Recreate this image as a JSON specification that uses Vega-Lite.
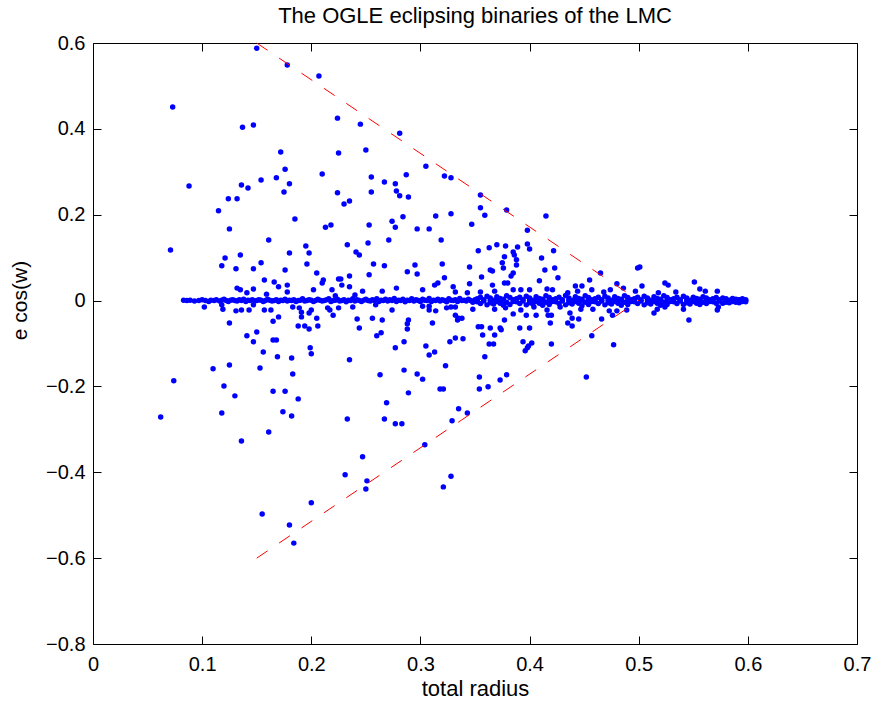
{
"$schema": "https://vega.github.io/schema/vega-lite/v6.json",
"width": 764, "height": 601,
"autosize": {"type": "none"},
"padding": {"left": 93, "top": 43, "right": 18, "bottom": 65},
"background": "white",
"config": {"font": "Liberation Sans", "view": {"stroke": "black", "strokeWidth": 1}},
"title": {"text": "The OGLE eclipsing binaries of the LMC", "fontSize": 22, "fontWeight": "normal", "color": "black", "offset": 5, "anchor": "middle", "font": "Liberation Sans"},
"datasets": {
"bounds": [
{"r":0.15,"e":0.6,"side":"upper"},{"r":0.5,"e":0,"side":"upper"},
{"r":0.15,"e":-0.6,"side":"lower"},{"r":0.5,"e":0,"side":"lower"}
],
"stars": [
{"r":0.150,"e":0.588},{"r":0.178,"e":0.549},{"r":0.207,"e":0.523},{"r":0.073,"e":0.451},{"r":0.137,"e":0.404},{"r":0.147,"e":0.409},{"r":0.172,"e":0.346},{"r":0.176,"e":0.306},{"r":0.210,"e":0.295},{"r":0.154,"e":0.281},{"r":0.168,"e":0.286},{"r":0.180,"e":0.272},{"r":0.175,"e":0.253},{"r":0.136,"e":0.269},{"r":0.142,"e":0.262},{"r":0.088,"e":0.267},{"r":0.124,"e":0.237},{"r":0.132,"e":0.237},{"r":0.115,"e":0.209},{"r":0.185,"e":0.190},{"r":0.125,"e":0.167},{"r":0.213,"e":0.171},{"r":0.218,"e":0.176},{"r":0.224,"e":0.425},{"r":0.225,"e":0.344},{"r":0.224,"e":0.251},{"r":0.245,"e":0.411},{"r":0.281,"e":0.390},{"r":0.250,"e":0.351},{"r":0.305,"e":0.313},{"r":0.255,"e":0.288},{"r":0.267,"e":0.276},{"r":0.277,"e":0.272},{"r":0.287,"e":0.293},{"r":0.322,"e":0.290},{"r":0.328,"e":0.286},{"r":0.255,"e":0.253},{"r":0.278,"e":0.255},{"r":0.281,"e":0.244},{"r":0.289,"e":0.241},{"r":0.230,"e":0.225},{"r":0.235,"e":0.232},{"r":0.355,"e":0.246},{"r":0.379,"e":0.211},{"r":0.355,"e":0.216},{"r":0.359,"e":0.199},{"r":0.314,"e":0.197},{"r":0.328,"e":0.202},{"r":0.284,"e":0.195},{"r":0.274,"e":0.185},{"r":0.277,"e":0.171},{"r":0.253,"e":0.176},{"r":0.347,"e":0.178},{"r":0.297,"e":0.167},{"r":0.308,"e":0.167},{"r":0.398,"e":0.164},{"r":0.415,"e":0.197},
{"r":0.071,"e":0.118},{"r":0.161,"e":0.141},{"r":0.195,"e":0.127},{"r":0.198,"e":0.111},{"r":0.180,"e":0.111},{"r":0.121,"e":0.099},{"r":0.135,"e":0.106},{"r":0.118,"e":0.081},{"r":0.131,"e":0.074},{"r":0.147,"e":0.074},{"r":0.154,"e":0.088},{"r":0.196,"e":0.085},{"r":0.176,"e":0.071},{"r":0.205,"e":0.064},{"r":0.157,"e":0.048},{"r":0.166,"e":0.043},{"r":0.170,"e":0.032},{"r":0.178,"e":0.036},{"r":0.211,"e":0.048},{"r":0.210,"e":0.041},{"r":0.225,"e":0.050},{"r":0.132,"e":0.029},{"r":0.135,"e":0.025},{"r":0.147,"e":0.027},{"r":0.141,"e":0.018},{"r":0.178,"e":0.020},{"r":0.202,"e":0.025},{"r":0.159,"e":0.015},{"r":0.219,"e":0.025},{"r":0.222,"e":0.011},
{"r":0.102,"e":-0.015},{"r":0.119,"e":-0.020},{"r":0.118,"e":-0.010},{"r":0.131,"e":-0.024},{"r":0.136,"e":-0.022},{"r":0.143,"e":-0.022},{"r":0.147,"e":-0.010},{"r":0.157,"e":-0.022},{"r":0.163,"e":-0.022},{"r":0.183,"e":-0.015},{"r":0.189,"e":-0.017},{"r":0.191,"e":-0.027},{"r":0.200,"e":-0.022},{"r":0.191,"e":-0.038},{"r":0.198,"e":-0.029},{"r":0.205,"e":-0.041},{"r":0.215,"e":-0.017},{"r":0.217,"e":-0.022},{"r":0.220,"e":-0.034},{"r":0.225,"e":-0.017},{"r":0.165,"e":-0.048},{"r":0.170,"e":-0.038},{"r":0.125,"e":-0.052},{"r":0.188,"e":-0.059},{"r":0.194,"e":-0.059},{"r":0.198,"e":-0.066},{"r":0.206,"e":-0.059},{"r":0.150,"e":-0.073},{"r":0.141,"e":-0.082},{"r":0.147,"e":-0.096},{"r":0.165,"e":-0.092},{"r":0.168,"e":-0.092},{"r":0.199,"e":-0.110},{"r":0.200,"e":-0.124},{"r":0.156,"e":-0.120},{"r":0.169,"e":-0.131},{"r":0.182,"e":-0.134},{"r":0.125,"e":-0.150},{"r":0.110,"e":-0.159},{"r":0.153,"e":-0.157},
{"r":0.183,"e":-0.171},{"r":0.074,"e":-0.187},{"r":0.120,"e":-0.199},{"r":0.130,"e":-0.222},{"r":0.165,"e":-0.211},{"r":0.176,"e":-0.211},{"r":0.188,"e":-0.229},{"r":0.062,"e":-0.271},{"r":0.118,"e":-0.262},{"r":0.174,"e":-0.259},{"r":0.182,"e":-0.269},{"r":0.161,"e":-0.306},{"r":0.136,"e":-0.327},{"r":0.200,"e":-0.471},{"r":0.155,"e":-0.497},{"r":0.180,"e":-0.523},{"r":0.184,"e":-0.565},
{"r":0.263,"e":-0.173},{"r":0.285,"e":-0.162},{"r":0.297,"e":-0.171},{"r":0.302,"e":-0.183},{"r":0.354,"e":-0.178},{"r":0.379,"e":-0.173},{"r":0.373,"e":-0.185},{"r":0.289,"e":-0.215},{"r":0.318,"e":-0.206},{"r":0.321,"e":-0.206},{"r":0.354,"e":-0.206},{"r":0.362,"e":-0.201},{"r":0.269,"e":-0.238},{"r":0.233,"e":-0.276},{"r":0.267,"e":-0.276},{"r":0.277,"e":-0.287},{"r":0.283,"e":-0.287},{"r":0.335,"e":-0.252},{"r":0.343,"e":-0.262},{"r":0.329,"e":-0.280},{"r":0.304,"e":-0.336},{"r":0.247,"e":-0.364},{"r":0.231,"e":-0.406},{"r":0.251,"e":-0.420},{"r":0.250,"e":-0.439},{"r":0.328,"e":-0.409},{"r":0.321,"e":-0.434},
{"r":0.233,"e":0.130},{"r":0.252,"e":0.134},{"r":0.271,"e":0.141},{"r":0.319,"e":0.141},{"r":0.241,"e":0.113},{"r":0.244,"e":0.106},{"r":0.353,"e":0.116},{"r":0.363,"e":0.123},{"r":0.370,"e":0.130},{"r":0.378,"e":0.127},{"r":0.389,"e":0.125},{"r":0.398,"e":0.132},{"r":0.400,"e":0.120},{"r":0.385,"e":0.113},{"r":0.386,"e":0.106},{"r":0.377,"e":0.102},{"r":0.388,"e":0.095},{"r":0.375,"e":0.088},{"r":0.388,"e":0.083},{"r":0.257,"e":0.085},{"r":0.267,"e":0.081},{"r":0.295,"e":0.083},{"r":0.320,"e":0.085},{"r":0.345,"e":0.078},{"r":0.364,"e":0.071},{"r":0.366,"e":0.069},{"r":0.376,"e":0.076},{"r":0.288,"e":0.067},{"r":0.297,"e":0.062},{"r":0.253,"e":0.060},{"r":0.385,"e":0.064},{"r":0.383,"e":0.057},{"r":0.235,"e":0.057},{"r":0.322,"e":0.053},{"r":0.356,"e":0.055},{"r":0.409,"e":0.046},{"r":0.227,"e":0.050},{"r":0.313,"e":0.036},{"r":0.316,"e":0.041},{"r":0.366,"e":0.036},{"r":0.377,"e":0.041},{"r":0.380,"e":0.041},{"r":0.345,"e":0.039},{"r":0.235,"e":0.032},{"r":0.228,"e":0.036},{"r":0.278,"e":0.029},{"r":0.302,"e":0.025},{"r":0.330,"e":0.032},{"r":0.332,"e":0.020},{"r":0.385,"e":0.025},{"r":0.392,"e":0.025},{"r":0.400,"e":0.025},{"r":0.368,"e":0.022},{"r":0.355,"e":0.020},{"r":0.265,"e":0.022},{"r":0.247,"e":0.022},{"r":0.240,"e":0.013},{"r":0.343,"e":0.018},
{"r":0.238,"e":-0.015},{"r":0.259,"e":-0.010},{"r":0.274,"e":-0.022},{"r":0.302,"e":-0.013},{"r":0.308,"e":-0.013},{"r":0.314,"e":-0.024},{"r":0.308,"e":-0.022},{"r":0.324,"e":-0.017},{"r":0.328,"e":-0.015},{"r":0.332,"e":-0.015},{"r":0.332,"e":-0.034},{"r":0.335,"e":-0.041},{"r":0.334,"e":-0.045},{"r":0.338,"e":-0.041},{"r":0.348,"e":-0.020},{"r":0.368,"e":-0.020},{"r":0.378,"e":-0.017},{"r":0.385,"e":-0.031},{"r":0.392,"e":-0.022},{"r":0.397,"e":-0.034},{"r":0.406,"e":-0.034},{"r":0.404,"e":-0.015},{"r":0.242,"e":-0.043},{"r":0.256,"e":-0.041},{"r":0.265,"e":-0.045},{"r":0.244,"e":-0.064},{"r":0.289,"e":-0.045},{"r":0.288,"e":-0.054},{"r":0.288,"e":-0.066},{"r":0.311,"e":-0.052},{"r":0.377,"e":-0.045},{"r":0.353,"e":-0.061},{"r":0.356,"e":-0.061},{"r":0.364,"e":-0.064},{"r":0.373,"e":-0.064},{"r":0.374,"e":-0.068},{"r":0.391,"e":-0.064},{"r":0.400,"e":-0.064},{"r":0.264,"e":-0.075},{"r":0.260,"e":-0.082},{"r":0.357,"e":-0.080},{"r":0.332,"e":-0.087},{"r":0.339,"e":-0.089},{"r":0.327,"e":-0.096},{"r":0.368,"e":-0.080},{"r":0.285,"e":-0.096},{"r":0.277,"e":-0.110},{"r":0.305,"e":-0.106},{"r":0.313,"e":-0.120},{"r":0.308,"e":-0.127},{"r":0.363,"e":-0.101},{"r":0.367,"e":-0.101},{"r":0.394,"e":-0.096},{"r":0.402,"e":-0.099},{"r":0.399,"e":-0.106},{"r":0.398,"e":-0.110},{"r":0.396,"e":-0.117},{"r":0.359,"e":-0.131},{"r":0.235,"e":-0.138},{"r":0.323,"e":-0.152},
{"r":0.422,"e":0.116},{"r":0.411,"e":0.099},{"r":0.414,"e":0.071},{"r":0.423,"e":0.076},{"r":0.426,"e":0.053},{"r":0.465,"e":0.064},{"r":0.499,"e":0.076},{"r":0.501,"e":0.078},{"r":0.455,"e":0.048},{"r":0.480,"e":0.039},{"r":0.442,"e":0.034},{"r":0.448,"e":0.034},{"r":0.457,"e":0.025},{"r":0.486,"e":0.029},{"r":0.503,"e":0.034},{"r":0.524,"e":0.041},{"r":0.527,"e":0.036},{"r":0.551,"e":0.043},{"r":0.556,"e":0.027},{"r":0.561,"e":0.022},{"r":0.572,"e":0.022},{"r":0.416,"e":0.027},{"r":0.421,"e":0.025},{"r":0.435,"e":0.018},{"r":0.444,"e":0.022},{"r":0.468,"e":0.020},{"r":0.474,"e":0.025},{"r":0.497,"e":0.022},{"r":0.518,"e":0.018},{"r":0.534,"e":0.020},
{"r":0.416,"e":-0.022},{"r":0.417,"e":-0.034},{"r":0.420,"e":-0.034},{"r":0.419,"e":-0.052},{"r":0.428,"e":-0.015},{"r":0.435,"e":-0.052},{"r":0.437,"e":-0.029},{"r":0.439,"e":-0.041},{"r":0.439,"e":-0.059},{"r":0.445,"e":-0.043},{"r":0.447,"e":-0.020},{"r":0.458,"e":-0.020},{"r":0.466,"e":-0.043},{"r":0.473,"e":-0.024},{"r":0.476,"e":-0.034},{"r":0.480,"e":-0.024},{"r":0.489,"e":-0.022},{"r":0.514,"e":-0.029},{"r":0.517,"e":-0.020},{"r":0.524,"e":-0.015},{"r":0.541,"e":-0.020},{"r":0.546,"e":-0.045},{"r":0.572,"e":-0.022},{"r":0.573,"e":-0.015},{"r":0.457,"e":-0.082},{"r":0.420,"e":-0.101},{"r":0.477,"e":-0.103},{"r":0.452,"e":-0.178},
{"r":0.083,"e":0.001},{"r":0.086,"e":0.000},{"r":0.089,"e":0.001},{"r":0.093,"e":-0.001},{"r":0.097,"e":0.000},{"r":0.100,"e":0.002},{"r":0.103,"e":0.000},{"r":0.106,"e":-0.002},{"r":0.108,"e":0.001},{"r":0.111,"e":0.000},{"r":0.113,"e":0.002},{"r":0.116,"e":-0.001},{"r":0.118,"e":0.001},{"r":0.120,"e":0.003},{"r":0.122,"e":0.000},{"r":0.124,"e":-0.002},{"r":0.126,"e":0.001},{"r":0.128,"e":0.002},{"r":0.130,"e":0.000},{"r":0.132,"e":-0.001},{"r":0.134,"e":0.002},{"r":0.136,"e":0.000},{"r":0.138,"e":0.003},{"r":0.140,"e":-0.002},{"r":0.142,"e":0.001},{"r":0.144,"e":0.000},{"r":0.146,"e":0.002},{"r":0.148,"e":-0.001},{"r":0.150,"e":0.000},{"r":0.152,"e":0.002},{"r":0.154,"e":0.001},{"r":0.156,"e":-0.002},{"r":0.158,"e":0.000},{"r":0.160,"e":0.003},{"r":0.162,"e":0.001},{"r":0.164,"e":-0.001},{"r":0.166,"e":0.000},{"r":0.168,"e":0.002},{"r":0.170,"e":-0.002},{"r":0.172,"e":0.001},{"r":0.174,"e":0.000},{"r":0.176,"e":0.003},{"r":0.178,"e":-0.001},{"r":0.180,"e":0.001},{"r":0.182,"e":0.000},{"r":0.184,"e":0.002},{"r":0.186,"e":-0.002},{"r":0.188,"e":0.000},{"r":0.190,"e":0.001},{"r":0.192,"e":0.004},{"r":0.194,"e":-0.001},{"r":0.196,"e":0.000},{"r":0.198,"e":0.002},{"r":0.200,"e":0.001},{"r":0.202,"e":-0.002},{"r":0.204,"e":0.000},{"r":0.206,"e":0.003},{"r":0.208,"e":0.001},{"r":0.210,"e":-0.001},{"r":0.212,"e":0.000},{"r":0.214,"e":0.002},{"r":0.216,"e":0.004},{"r":0.218,"e":-0.002},{"r":0.220,"e":0.000},{"r":0.222,"e":0.001},{"r":0.224,"e":0.003},{"r":0.226,"e":-0.001},{"r":0.228,"e":0.000},{"r":0.230,"e":0.002},{"r":0.232,"e":-0.003},{"r":0.234,"e":0.001},{"r":0.236,"e":0.000},{"r":0.238,"e":0.004},{"r":0.240,"e":-0.001},{"r":0.242,"e":0.002},{"r":0.244,"e":0.000},{"r":0.246,"e":-0.002},{"r":0.248,"e":0.001},{"r":0.250,"e":0.003},{"r":0.252,"e":0.000},{"r":0.254,"e":-0.001},{"r":0.256,"e":0.002},{"r":0.258,"e":0.000},{"r":0.260,"e":0.004},{"r":0.262,"e":-0.002},{"r":0.264,"e":0.001},{"r":0.266,"e":0.000},{"r":0.268,"e":0.003},{"r":0.270,"e":-0.001},{"r":0.272,"e":0.002},{"r":0.274,"e":0.000},{"r":0.276,"e":0.005},{"r":0.278,"e":-0.002},{"r":0.280,"e":0.001},{"r":0.282,"e":0.000},{"r":0.284,"e":0.003},{"r":0.286,"e":-0.003},{"r":0.288,"e":0.001},{"r":0.290,"e":0.000},{"r":0.292,"e":0.004},{"r":0.294,"e":-0.001},{"r":0.296,"e":0.002},{"r":0.298,"e":0.000},{"r":0.300,"e":-0.002},{"r":0.302,"e":0.003},{"r":0.304,"e":0.001},{"r":0.306,"e":0.000},{"r":0.308,"e":0.005},{"r":0.310,"e":-0.002},{"r":0.312,"e":0.001},{"r":0.314,"e":0.000},{"r":0.316,"e":0.003},{"r":0.318,"e":-0.001},{"r":0.320,"e":0.002},{"r":0.322,"e":0.000},{"r":0.324,"e":-0.003},{"r":0.326,"e":0.004},{"r":0.328,"e":0.001},{"r":0.330,"e":0.000},{"r":0.332,"e":0.002},{"r":0.334,"e":-0.002},{"r":0.336,"e":0.005},{"r":0.338,"e":0.000},{"r":0.340,"e":0.001},{"r":0.342,"e":-0.001},{"r":0.344,"e":0.003},{"r":0.346,"e":0.000},{"r":0.348,"e":-0.004},{"r":0.350,"e":0.002},
{"r":0.352,"e":0.004},{"r":0.352,"e":-0.003},{"r":0.352,"e":0.000},{"r":0.355,"e":0.008},{"r":0.355,"e":-0.007},{"r":0.358,"e":0.002},{"r":0.358,"e":-0.001},{"r":0.361,"e":0.010},{"r":0.361,"e":-0.010},{"r":0.364,"e":0.006},{"r":0.364,"e":-0.005},{"r":0.364,"e":0.001},{"r":0.367,"e":0.001},{"r":0.367,"e":-0.008},{"r":0.370,"e":0.009},{"r":0.370,"e":-0.002},{"r":0.373,"e":0.005},{"r":0.373,"e":-0.006},{"r":0.376,"e":0.003},{"r":0.376,"e":-0.011},{"r":0.376,"e":0.001},{"r":0.379,"e":0.011},{"r":0.379,"e":-0.004},{"r":0.382,"e":0.007},{"r":0.382,"e":-0.009},{"r":0.385,"e":0.002},{"r":0.385,"e":-0.002},{"r":0.388,"e":0.004},{"r":0.388,"e":-0.003},{"r":0.391,"e":0.008},{"r":0.391,"e":-0.007},{"r":0.394,"e":0.002},{"r":0.394,"e":-0.001},{"r":0.397,"e":0.010},{"r":0.397,"e":-0.010},{"r":0.400,"e":0.006},{"r":0.400,"e":-0.005},{"r":0.400,"e":0.001},{"r":0.403,"e":0.001},{"r":0.403,"e":-0.008},{"r":0.406,"e":0.009},{"r":0.406,"e":-0.002},{"r":0.409,"e":0.005},{"r":0.409,"e":-0.006},{"r":0.412,"e":0.003},{"r":0.412,"e":-0.011},{"r":0.412,"e":0.001},{"r":0.415,"e":0.011},{"r":0.415,"e":-0.004},{"r":0.418,"e":0.007},{"r":0.418,"e":-0.009},{"r":0.418,"e":0.000},{"r":0.421,"e":0.002},{"r":0.421,"e":-0.002},{"r":0.424,"e":0.004},{"r":0.424,"e":-0.003},{"r":0.427,"e":0.008},{"r":0.427,"e":-0.007},{"r":0.430,"e":0.002},{"r":0.430,"e":-0.001},{"r":0.433,"e":0.012},{"r":0.433,"e":-0.010},{"r":0.436,"e":0.006},{"r":0.436,"e":-0.005},{"r":0.436,"e":0.001},{"r":0.439,"e":0.001},{"r":0.439,"e":-0.008},{"r":0.442,"e":0.009},{"r":0.442,"e":-0.002},{"r":0.442,"e":0.000},{"r":0.445,"e":0.005},{"r":0.445,"e":-0.006},{"r":0.448,"e":0.003},{"r":0.448,"e":-0.012},{"r":0.448,"e":0.001},{"r":0.451,"e":0.011},{"r":0.451,"e":-0.004},{"r":0.454,"e":0.007},{"r":0.454,"e":-0.009},{"r":0.454,"e":0.000},{"r":0.457,"e":0.002},{"r":0.457,"e":-0.002},{"r":0.460,"e":0.004},{"r":0.460,"e":-0.003},{"r":0.460,"e":-0.001},{"r":0.463,"e":0.008},{"r":0.463,"e":-0.007},{"r":0.466,"e":0.002},{"r":0.466,"e":-0.001},{"r":0.466,"e":0.000},{"r":0.469,"e":0.010},{"r":0.469,"e":-0.010},{"r":0.472,"e":0.006},{"r":0.472,"e":-0.005},{"r":0.472,"e":0.001},{"r":0.475,"e":0.001},{"r":0.475,"e":-0.008},{"r":0.478,"e":0.009},{"r":0.478,"e":-0.002},{"r":0.478,"e":0.000},{"r":0.481,"e":0.005},{"r":0.481,"e":-0.006},{"r":0.484,"e":0.003},{"r":0.484,"e":-0.011},{"r":0.484,"e":0.001},{"r":0.487,"e":0.011},{"r":0.487,"e":-0.004},{"r":0.490,"e":0.007},{"r":0.490,"e":-0.009},{"r":0.490,"e":0.000},{"r":0.493,"e":0.002},{"r":0.493,"e":-0.002},{"r":0.496,"e":0.004},{"r":0.496,"e":-0.003},{"r":0.496,"e":-0.001},{"r":0.499,"e":0.008},{"r":0.499,"e":-0.007},{"r":0.502,"e":0.002},{"r":0.502,"e":-0.001},{"r":0.502,"e":0.000},{"r":0.505,"e":0.010},{"r":0.505,"e":-0.010},{"r":0.508,"e":0.006},{"r":0.508,"e":-0.005},{"r":0.508,"e":0.001},{"r":0.511,"e":0.001},{"r":0.511,"e":-0.008},{"r":0.514,"e":0.009},{"r":0.514,"e":-0.002},{"r":0.514,"e":0.000},{"r":0.517,"e":0.005},{"r":0.517,"e":-0.006},{"r":0.520,"e":0.003},{"r":0.520,"e":-0.011},{"r":0.520,"e":0.001},{"r":0.523,"e":0.011},{"r":0.523,"e":-0.004},{"r":0.526,"e":0.007},{"r":0.526,"e":-0.009},{"r":0.526,"e":0.000},{"r":0.529,"e":0.002},{"r":0.529,"e":-0.002},{"r":0.532,"e":0.004},{"r":0.532,"e":-0.003},{"r":0.532,"e":-0.001},{"r":0.535,"e":0.008},{"r":0.535,"e":-0.007},{"r":0.538,"e":0.002},{"r":0.538,"e":-0.001},{"r":0.538,"e":0.000},{"r":0.541,"e":0.010},{"r":0.541,"e":-0.009},{"r":0.544,"e":0.006},{"r":0.544,"e":-0.005},{"r":0.544,"e":0.001},{"r":0.547,"e":0.001},{"r":0.547,"e":-0.008},{"r":0.550,"e":0.008},{"r":0.550,"e":-0.002},{"r":0.550,"e":0.000},{"r":0.553,"e":0.005},{"r":0.553,"e":-0.006},{"r":0.556,"e":0.003},{"r":0.556,"e":-0.009},{"r":0.556,"e":0.001},{"r":0.559,"e":0.009},{"r":0.559,"e":-0.004},{"r":0.562,"e":0.006},{"r":0.562,"e":-0.007},{"r":0.562,"e":0.000},{"r":0.565,"e":0.002},{"r":0.565,"e":-0.002},{"r":0.568,"e":0.004},{"r":0.568,"e":-0.003},{"r":0.568,"e":-0.001},{"r":0.571,"e":0.007},{"r":0.571,"e":-0.006},{"r":0.574,"e":0.002},{"r":0.574,"e":-0.001},{"r":0.574,"e":0.000},{"r":0.577,"e":0.006},{"r":0.577,"e":-0.006},{"r":0.580,"e":0.004},{"r":0.580,"e":-0.004},{"r":0.580,"e":0.001},{"r":0.583,"e":0.001},{"r":0.583,"e":-0.005},{"r":0.586,"e":0.005},{"r":0.586,"e":-0.002},{"r":0.586,"e":0.000},{"r":0.589,"e":0.003},{"r":0.589,"e":-0.004},{"r":0.592,"e":0.002},{"r":0.592,"e":-0.005},{"r":0.592,"e":0.001},{"r":0.595,"e":0.004},{"r":0.595,"e":-0.002},{"r":0.598,"e":0.002},{"r":0.598,"e":-0.003},{"r":0.598,"e":0.000}
]
},
"layer": [
{
"data": {"name": "stars"},
"mark": {"type": "circle", "size": 30, "opacity": 1, "color": "#0000ff"},
"encoding": {
"x": {"field": "r", "type": "quantitative", "scale": {"domain": [0, 0.7], "nice": false, "zero": false},
"axis": {"orient": "bottom", "values": [0,0.1,0.2,0.3,0.4,0.5,0.6,0.7], "labelExpr": "datum.value == 0 ? '0' : format(datum.value, '.1f')", "grid": false, "domain": false, "tickSize": -8, "tickColor": "black", "labelPadding": 18, "labelFontSize": 20, "labelColor": "black", "labelFont": "Liberation Sans", "labelFlush": false, "labelOverlap": false, "labelBound": false, "title": "total radius", "titleFontSize": 22, "titleFontWeight": "normal", "titleColor": "black", "titleFont": "Liberation Sans", "titlePadding": 4}},
"y": {"field": "e", "type": "quantitative", "scale": {"domain": [-0.8, 0.6], "nice": false, "zero": false},
"axis": {"orient": "left", "values": [-0.8,-0.6,-0.4,-0.2,0,0.2,0.4,0.6], "labelExpr": "datum.value == 0 ? '0' : format(datum.value, '.1f')", "grid": false, "domain": false, "tickSize": -8, "tickColor": "black", "labelPadding": 16, "labelFontSize": 20, "labelColor": "black", "labelFont": "Liberation Sans", "labelFlush": false, "labelOverlap": false, "labelBound": false, "title": "e cos(w)", "titleFontSize": 21, "titleFontWeight": "normal", "titleColor": "black", "titleFont": "Liberation Sans", "titleAngle": -90, "titleX": -73, "titleY": 257, "titleAlign": "center", "titleBaseline": "middle"}}
}
},
{
"data": {"name": "bounds"},
"mark": {"type": "line", "color": "#ff0000", "strokeWidth": 1, "strokeDash": [13, 14]},
"encoding": {
"x": {"field": "r", "type": "quantitative", "scale": {"domain": [0, 0.7], "nice": false, "zero": false},
"axis": {"orient": "top", "values": [0,0.1,0.2,0.3,0.4,0.5,0.6,0.7], "labels": false, "grid": false, "domain": false, "tickSize": -8, "tickColor": "black", "title": null}},
"y": {"field": "e", "type": "quantitative", "scale": {"domain": [-0.8, 0.6], "nice": false, "zero": false},
"axis": {"orient": "right", "values": [-0.8,-0.6,-0.4,-0.2,0,0.2,0.4,0.6], "labels": false, "grid": false, "domain": false, "tickSize": -8, "tickColor": "black", "title": null}},
"detail": {"field": "side", "type": "nominal"}
}
}
],
"resolve": {"axis": {"x": "independent", "y": "independent"}}
}
